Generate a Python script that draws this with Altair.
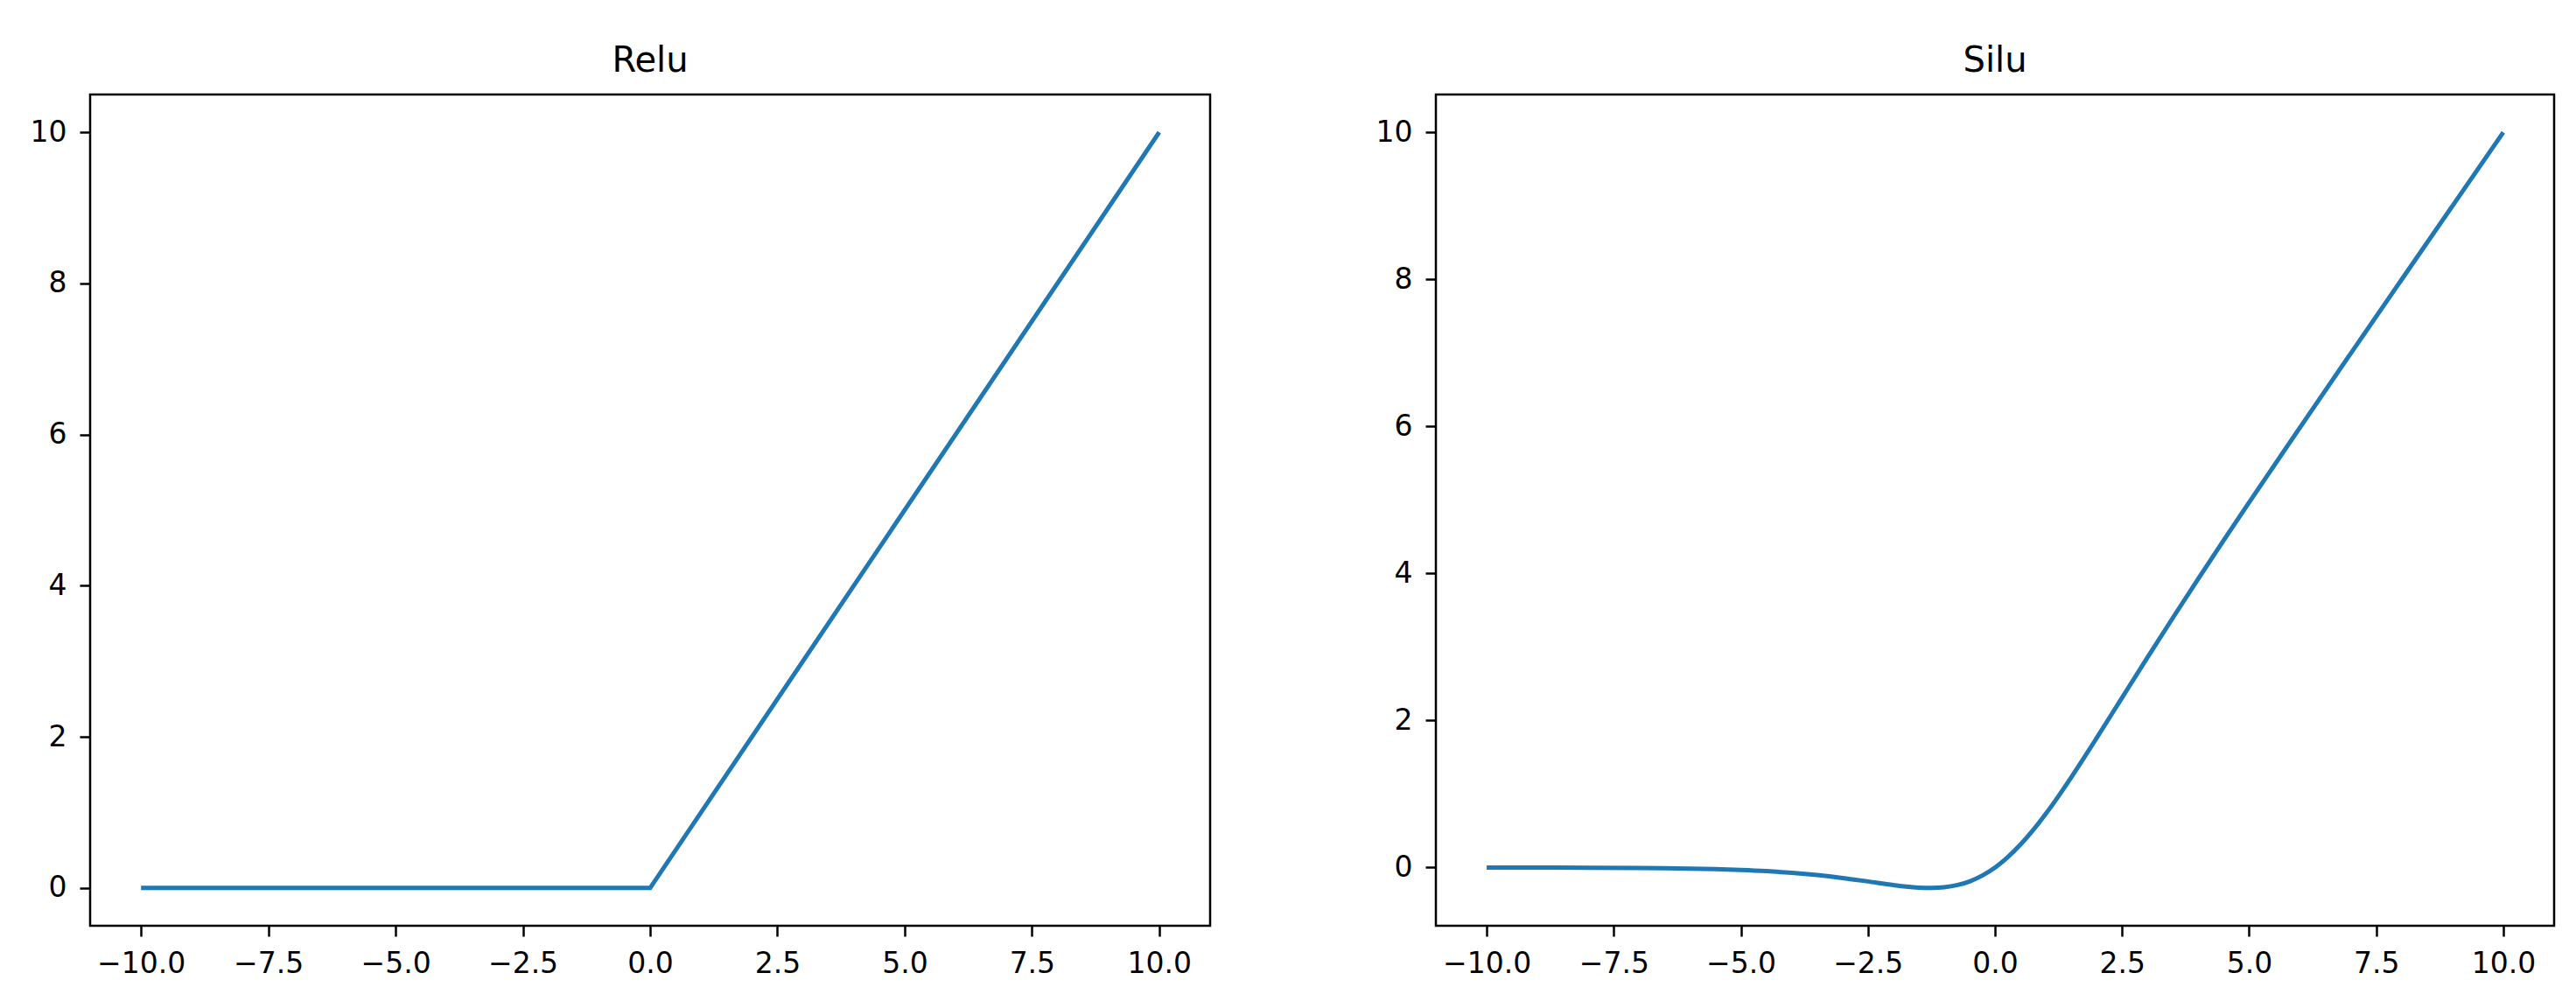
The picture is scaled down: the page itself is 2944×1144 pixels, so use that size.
import altair as alt
import pandas as pd

# ---- data ----
relu_x = [-10.0, 0.0, 10.0]
relu_y = [0.0, 0.0, 10.0]

silu_x = [-10.0, -9.0, -8.0, -7.0, -6.5, -6.0, -5.5, -5.0, -4.5, -4.0, -3.5, -3.0,
          -2.5, -2.0, -1.75, -1.5, -1.25, -1.0, -0.75, -0.5, -0.25, 0.0, 0.25,
          0.5, 0.75, 1.0, 1.25, 1.5, 1.75, 2.0, 2.5, 3.0, 3.5, 4.0, 4.5, 5.0,
          6.0, 7.0, 8.0, 9.0, 10.0]
silu_y = [-0.0005, -0.0011, -0.0027, -0.0064, -0.0098, -0.0148, -0.0224, -0.0335,
          -0.0494, -0.0719, -0.1026, -0.1423, -0.1896, -0.2384, -0.2591, -0.2736,
          -0.2784, -0.2689, -0.2406, -0.1888, -0.1095, 0.0, 0.1405, 0.3112, 0.5094,
          0.7311, 0.9716, 1.2263, 1.4909, 1.7616, 2.3104, 2.8577, 3.3974, 3.9281,
          4.4506, 4.9665, 5.9852, 6.9936, 7.9973, 8.9989, 9.9995]

x_ticks = [-10.0, -7.5, -5.0, -2.5, 0.0, 2.5, 5.0, 7.5, 10.0]
y_ticks = [0, 2, 4, 6, 8, 10]

relu_df = pd.DataFrame({"x": relu_x, "y": relu_y})
silu_df = pd.DataFrame({"x": silu_x, "y": silu_y})

LINE = "#1f77b4"
FONT = "DejaVu Sans"


def panel(df, title, ydom, width, height, interp):
    return (
        alt.Chart(df)
        .mark_line(color=LINE, strokeWidth=5, interpolate=interp)
        .encode(
            x=alt.X(
                "x:Q",
                scale=alt.Scale(domain=[-11, 11], nice=False, zero=False),
                axis=alt.Axis(values=x_ticks, format=".1f", title=None,
                              labelPadding=15, labelFlush=False, labelOverlap=False),
            ),
            y=alt.Y(
                "y:Q",
                scale=alt.Scale(domain=ydom, nice=False, zero=False),
                axis=alt.Axis(values=y_ticks, format="d", title=None,
                              labelPadding=15, minExtent=93, maxExtent=93,
                              labelOverlap=False),
            ),
        )
        .properties(
            width=width,
            height=height,
            title=alt.TitleParams(title, font=FONT, fontSize=40, fontWeight="normal",
                                  color="black", offset=-14, baseline="alphabetic",
                                  anchor="middle"),
        )
    )


left = panel(relu_df, "Relu", [-0.5, 10.5], 1280, 950, "linear")
right = panel(silu_df, "Silu", [-0.792, 10.514], 1278, 950, "monotone")

chart = (
    alt.hconcat(left, right, spacing=161)
    .properties(padding={"top": 40, "left": 0, "right": 0, "bottom": 0}, background="white")
    .configure_view(stroke="black", strokeWidth=2.5)
    .configure_axis(
        domain=False,
        grid=False,
        labelFont=FONT,
        labelFontSize=33,
        labelColor="black",
        tickColor="black",
        tickWidth=2.5,
        tickSize=12,
    )
)

chart.save("out.html", embed_options={"renderer": "svg", "actions": False})
